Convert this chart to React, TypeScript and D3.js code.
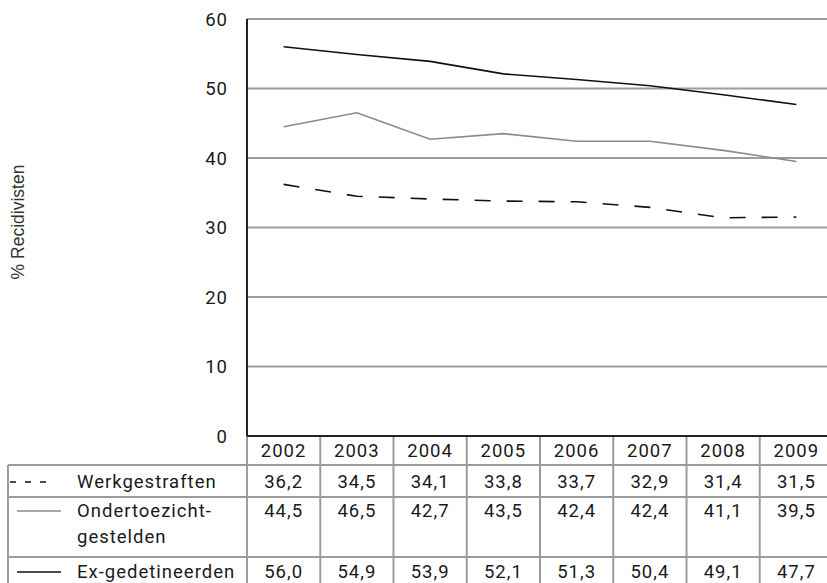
import React from 'react';
import * as d3 from 'd3';

const years = ['2002', '2003', '2004', '2005', '2006', '2007', '2008', '2009'];
const werkgestraften = [36.2, 34.5, 34.1, 33.8, 33.7, 32.9, 31.4, 31.5];
const ondertoezicht = [44.5, 46.5, 42.7, 43.5, 42.4, 42.4, 41.1, 39.5];
const exGedetineerden = [56.0, 54.9, 53.9, 52.1, 51.3, 50.4, 49.1, 47.7];
const yTicks = [0, 10, 20, 30, 40, 50, 60];

const W = 827;
const H = 583;
const left = 247;
const right = 833;
const top = 19;
const bottom = 436;
const font = 'Roboto, "Liberation Sans", sans-serif';
const textColor = '#1a1a1a';
const gridColor = '#9c9c9c';
const fs = 18.5;
const ls = 1;

const fmt = (v: number) => v.toFixed(1).replace('.', ',');

export default function App() {
  const x = d3.scaleBand().domain(years).range([left, right]).padding(0);
  const y = d3.scaleLinear().domain([0, 60]).range([bottom, top]);
  const cx = (d: string) => (x(d) || 0) + x.bandwidth() / 2;

  const line = d3.line<number>()
    .x((_, i) => cx(years[i]))
    .y(d => y(d));

  // table rows
  const rows = [
    { label: ['Werkgestraften'], values: werkgestraften, y0: 465, base: 488, dash: '6,9', color: '#111' },
    { label: ['Ondertoezicht-', 'gestelden'], values: ondertoezicht, y0: 497, base: 517, dash: null, color: '#8a8a8a' },
    { label: ['Ex-gedetineerden'], values: exGedetineerden, y0: 557, base: 578, dash: null, color: '#111' },
  ];

  return (
    <svg width={W} height={H} style={{ position: 'absolute', left: 0, top: 0, background: '#fff' }}>
      {/* gridlines */}
      {yTicks.filter(t => t > 0).map(t => (
        <line key={t} x1={left} x2={right} y1={y(t)} y2={y(t)} stroke={gridColor} strokeWidth={2} />
      ))}
      {/* tick labels */}
      {yTicks.map(t => (
        <text key={t} x={228} y={y(t) + 6.5} textAnchor="end" fontFamily={font} fontSize={fs}
          fill={textColor} letterSpacing={ls}>{t}</text>
      ))}
      <text transform="translate(24,222) rotate(-90)" textAnchor="middle" fontFamily='"Liberation Sans", Arial, sans-serif'
        fontSize={17.5} fill="#333">% Recidivisten</text>

      {/* series */}
      <path d={line(werkgestraften) || ''} fill="none" stroke="#111" strokeWidth={1.6} strokeDasharray="16,16" />
      <path d={line(ondertoezicht) || ''} fill="none" stroke="#8a8a8a" strokeWidth={1.6} />
      <path d={line(exGedetineerden) || ''} fill="none" stroke="#111" strokeWidth={1.6} />

      {/* table grid */}
      {years.map(d => (
        <line key={d} x1={(x(d) || 0)} x2={(x(d) || 0)} y1={bottom} y2={H + 10} stroke={gridColor} strokeWidth={2} />
      ))}
      <line x1={8} x2={8} y1={465} y2={H + 10} stroke={gridColor} strokeWidth={2} />
      {rows.map((r, i) => (
        <line key={i} x1={8} x2={right} y1={r.y0} y2={r.y0} stroke={gridColor} strokeWidth={2} />
      ))}

      {/* axes */}
      <line x1={left} x2={left} y1={top} y2={bottom} stroke="#222" strokeWidth={2} />
      <line x1={left} x2={right} y1={bottom} y2={bottom} stroke="#222" strokeWidth={2} />

      {/* header */}
      {years.map(d => (
        <text key={d} x={cx(d)} y={457} textAnchor="middle" fontFamily={font} fontSize={fs}
          fill={textColor} letterSpacing={ls}>{d}</text>
      ))}

      {rows.map((r, i) => (
        <g key={i}>
          <line x1={r.dash ? 10 : 17} x2={r.dash ? 46 : 61} y1={r.base - 6} y2={r.base - 6}
            stroke={r.color} strokeWidth={1.6} strokeDasharray={r.dash || undefined} />
          {r.label.map((l, j) => (
            <text key={j} x={77} y={r.base + j * 26} fontFamily={font} fontSize={fs} fill={textColor}
              letterSpacing={ls}>{l}</text>
          ))}
          {r.values.map((v, j) => (
            <text key={j} x={cx(years[j])} y={r.base} textAnchor="middle" fontFamily={font} fontSize={fs}
              fill={textColor} letterSpacing={ls}>{fmt(v)}</text>
          ))}
        </g>
      ))}
    </svg>
  );
}
